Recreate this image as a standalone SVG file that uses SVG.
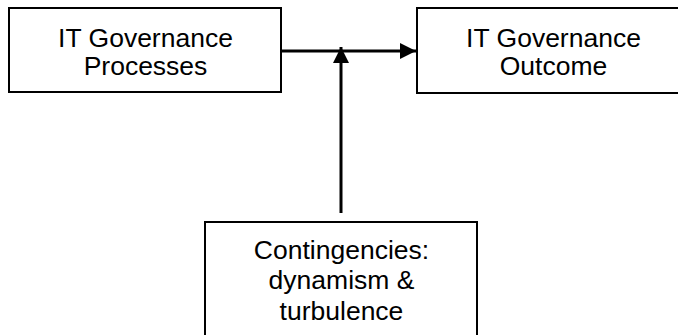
<svg xmlns="http://www.w3.org/2000/svg" width="678" height="335" viewBox="0 0 678 335">
<style>
.box{fill:#fff;stroke:#000;stroke-width:2}
.lbl{font-family:"Liberation Sans",Arial,sans-serif;font-size:26.5px;fill:#000;text-anchor:middle}
.conn{stroke:#000;stroke-width:3;fill:none}
</style>
<defs>
<marker id="ah" markerUnits="userSpaceOnUse" markerWidth="16" markerHeight="16" refX="16" refY="8" orient="auto">
<path d="M0,0 L16,8 L0,16 Z" fill="#000"/>
</marker>
</defs>
<rect width="678" height="335" fill="#fff"/>
<g id="processes">
<rect class="box" x="9" y="8" width="272" height="84"/>
<text class="lbl" x="145.5" y="47">IT Governance</text>
<text class="lbl" x="145.5" y="74.5">Processes</text>
</g>
<g id="outcome">
<rect class="box" x="417" y="8" width="275" height="85"/>
<text class="lbl" x="553.5" y="47">IT Governance</text>
<text class="lbl" x="553.5" y="75">Outcome</text>
</g>
<g id="contingencies">
<rect class="box" x="205" y="222" width="272" height="125"/>
<text class="lbl" x="341.5" y="259">Contingencies:</text>
<text class="lbl" x="341.5" y="289">dynamism &amp;</text>
<text class="lbl" x="341.5" y="320">turbulence</text>
</g>
<g id="connectors">
<line class="conn" x1="281" y1="51" x2="416" y2="51" marker-end="url(#ah)"/>
<line class="conn" x1="341" y1="213" x2="341" y2="47" marker-end="url(#ah)"/>
</g>
</svg>
